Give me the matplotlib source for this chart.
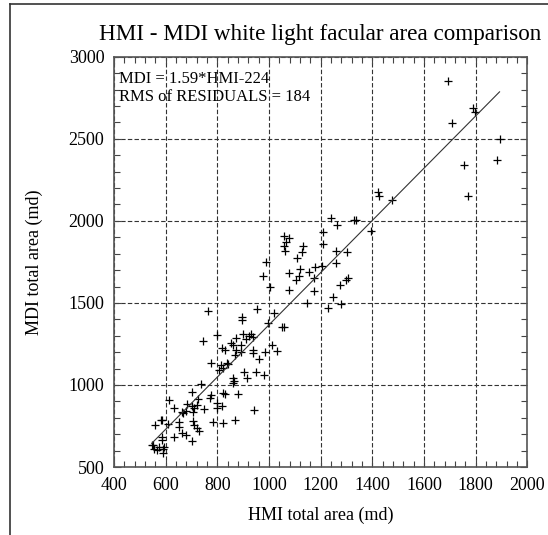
import numpy as np
import matplotlib
matplotlib.use("Agg")
import matplotlib.pyplot as plt
from matplotlib.lines import Line2D
from matplotlib.ticker import MultipleLocator

# HMI / MDI total facular area pairs (md)
hmi = [1695, 1790, 1797, 1708, 1893, 1757, 1885, 1770, 1478, 1422,
       1426, 1241, 1265, 1328, 1336, 1396, 1209, 1209, 1058, 1078,
       1066, 1059, 1063, 1131, 1128, 1109, 1259, 1302, 1258, 987,
       977, 1005, 1076, 1122, 1104, 1118, 1155, 1179, 1205, 1175,
       1078, 1174, 1277, 1300, 1305, 1249, 1281, 1146, 1227, 763,
       897, 953, 1021, 895, 998, 1051, 1059, 798, 746, 901,
       923, 931, 910, 940, 873, 852, 860, 891, 820, 828,
       872, 870, 938, 940, 985, 1011, 1033, 963, 981, 950,
       904, 914, 862, 865, 860, 813, 824, 808, 837, 775,
       736, 701, 882, 824, 830, 772, 776, 800, 819, 800,
       944, 869, 821, 782, 749, 724, 721, 711, 702, 705,
       682, 679, 669, 662, 633, 614, 550, 555, 565, 591,
       589, 595, 585, 586, 559, 582, 585, 610, 633, 652,
       653, 665, 679, 701, 707, 710, 720, 731, 546, 576,
       843, 892]
mdi = [2855, 2685, 2665, 2596, 2500, 2342, 2368, 2150, 2128, 2173,
       2152, 2015, 1975, 2005, 2005, 1940, 1933, 1860, 1908, 1898,
       1874, 1849, 1819, 1848, 1813, 1772, 1817, 1811, 1746, 1752,
       1661, 1600, 1685, 1707, 1640, 1661, 1689, 1721, 1726, 1652,
       1579, 1573, 1610, 1640, 1650, 1539, 1494, 1498, 1467, 1453,
       1413, 1465, 1441, 1396, 1376, 1352, 1356, 1302, 1268, 1309,
       1299, 1309, 1278, 1293, 1285, 1258, 1244, 1244, 1224, 1213,
       1211, 1183, 1213, 1193, 1199, 1244, 1209, 1159, 1061, 1077,
       1077, 1045, 1040, 1026, 1010, 1122, 1102, 1091, 1132, 1136,
       1006, 957, 943, 953, 945, 919, 939, 888, 874, 858,
       848, 787, 767, 776, 853, 913, 878, 858, 872, 833,
       884, 841, 831, 837, 861, 907, 637, 612, 606, 588,
       612, 622, 663, 683, 754, 785, 789, 760, 683, 774,
       744, 707, 698, 657, 778, 757, 738, 722, 632, 622,
       1130, 1203]

slope = 1.59
intercept = -224
rms_resid = 184

plt.rcParams["font.family"] = ["Liberation Serif", "DejaVu Serif"]

fig = plt.figure(figsize=(5.48, 5.35), dpi=100)
ax = fig.add_axes([0.208, 0.127, 0.754, 0.767])

ax.plot(hmi, mdi, "+", color="black", markersize=6, mew=0.9)

fit_x = np.array([min(hmi), max(hmi)])
ax.plot(fit_x, slope * fit_x + intercept, color="#333333", lw=0.8)

ax.set_xlim(400, 2000)
ax.set_ylim(500, 3000)
ax.xaxis.set_major_locator(MultipleLocator(200))
ax.xaxis.set_minor_locator(MultipleLocator(40))
ax.yaxis.set_major_locator(MultipleLocator(500))
ax.yaxis.set_minor_locator(MultipleLocator(100))
ax.tick_params(which="both", direction="in", top=True, right=True,
               labelsize=13, color="#444444")
ax.tick_params(which="major", length=5, width=0.8, pad=7)
ax.tick_params(which="minor", length=4, width=0.8)
ax.grid(True, which="major", linestyle=(0, (4, 2)), color="#333333", lw=0.8)
for sp in ax.spines.values():
    sp.set_color("#555555")
    sp.set_linewidth(1.2)

ax.set_xlabel("HMI total area (md)", fontsize=13, labelpad=9)
ax.set_ylabel("MDI total area (md)", fontsize=13, labelpad=18)
ax.set_title("HMI - MDI white light facular area comparison", fontsize=16.7, pad=12)

ax.text(0.012, 0.946, f"MDI = {slope}*HMI{intercept}", transform=ax.transAxes,
        fontsize=12, va="center", ha="left")
ax.text(0.012, 0.902, f"RMS of RESIDUALS = {rms_resid}", transform=ax.transAxes,
        fontsize=12, va="center", ha="left")

# partial frame around the figure (top and left edges)
fig.add_artist(Line2D([10 / 548, 1], [1 - 4 / 535, 1 - 4 / 535],
                      transform=fig.transFigure, color="#333333", lw=1.2))
fig.add_artist(Line2D([10 / 548, 10 / 548], [0, 1 - 4 / 535],
                      transform=fig.transFigure, color="#333333", lw=1.2))

fig.savefig("out.png", dpi=100)
